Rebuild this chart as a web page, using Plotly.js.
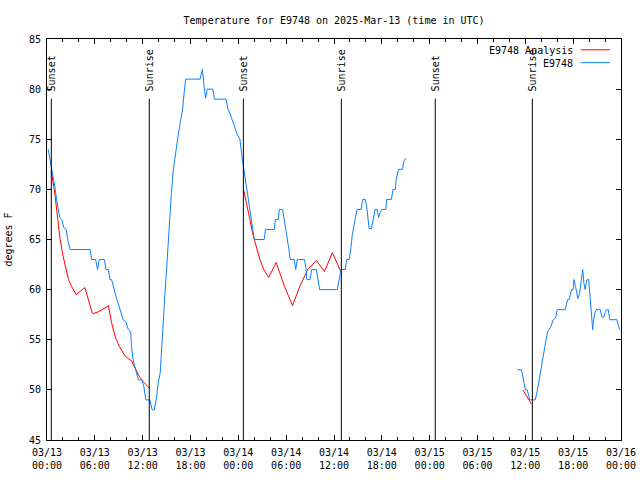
<!DOCTYPE html>
<html>
<head>
<meta charset="utf-8">
<script src="https://cdn.plot.ly/plotly-3.0.1.min.js"></script>
<style>html,body{margin:0;padding:0;background:#fff;}#chart{width:640px;height:480px;}</style>
</head>
<body>
<div id="chart"></div>
<script>
// Hours since 2025-03-13 00:00 UTC
const startDate = Date.UTC(2025, 2, 13, 0, 0, 0);

// Observed (blue) series
const obsHours = [
  0.15,0.35,0.6,0.8,1.0,1.2,1.4,1.6,1.85,2.1,2.4,2.6,2.9,5.4,5.6,6.1,6.35,6.55,7.2,7.4,7.7,7.9,8.1,8.4,8.7,8.9,9.15,9.55,9.9,10.2,10.5,10.6,10.8,11.15,11.45,11.9,12.15,12.4,12.9,13.2,13.45,13.7,13.95,14.2,14.4,14.6,14.8,15.0,15.2,15.4,15.6,15.85,16.1,16.4,16.7,17.0,17.2,17.4,19.2,19.4,19.5,19.7,19.9,20.1,20.8,21.0,22.45,22.7,23.1,23.4,23.8,24.2,24.4,24.6,24.8,25.0,25.2,25.4,25.6,25.8,26.0,27.25,27.4,28.5,28.65,29.0,29.15,29.55,29.75,30.0,30.15,30.35,30.5,31.0,31.2,31.4,32.3,32.5,32.6,33.0,33.2,33.8,34.0,34.2,36.4,36.65,36.9,37.4,37.6,37.9,38.1,38.3,38.5,38.7,38.9,39.4,39.6,39.9,40.1,40.25,40.4,40.7,40.9,41.15,41.4,41.6,41.8,42.0,42.5,42.6,43.2,43.4,43.7,43.8,44.1,44.6,44.75,45.0,
  null,
  59.0,59.5,59.6,59.8,60.0,60.25,60.4,60.55,61.25,61.4,61.6,61.8,62.0,62.2,62.4,62.6,62.8,63.0,63.2,63.5,63.8,64.0,65.0,65.15,65.3,65.5,65.8,66.0,66.1,66.3,66.5,66.6,66.8,67.05,67.2,67.35,67.5,67.65,67.75,67.95,68.1,68.2,68.35,68.45,68.5,68.7,68.9,69.4,69.6,69.8,70.0,70.2,70.4,70.6,71.5,71.7,71.9
];
const obsTemps = [
  74,73.1,72.3,71.3,70.2,69,68,67.2,67,66.2,66,65,64,64,63,63,62,63,63,62,62,61,61,60,59.2,58.7,58,57,56.8,56,55.8,54.3,53,51.8,51,51,50.3,49,49,48,48,49,50.7,51.7,54.7,56.7,59.7,62,64.7,67.6,69.6,72,73.6,75.1,76.6,77.9,79.6,81,81,81.6,82,80.3,79.1,80,80,79,79,78,77.3,76.6,75.6,75,73.6,72.5,71.3,70.3,69,68,67,66,65,65,66,66,67,67,68,68,67,66,65,64,63,63,62,63,63,62,61,61,62,62,61,60,60,61,62,62,63,63,64,65.5,66.5,67.2,68,68,69,69,68.3,67.3,66.1,66.1,67,68,68,67.2,67.7,68,68,69,69,70,70,71,72,72,72.8,73.1,
  null,
  52,52,51.7,50.7,50,50,49.3,49,49,49.5,50.3,51.3,52.3,53.3,54.3,55,55.8,56,56.3,57,57.2,58,58,58.5,59,59,60,60,61,60.3,59.6,59.1,59.6,61,62,60.6,60,60.7,61,61,59.6,58.1,56.6,56,56.6,57.6,58,58,57.3,57.2,57.7,58,58,57,57,56.3,56
];

// Analysis (red) series
const anaHours = [
  0.55,1.0,1.35,1.65,2.0,2.35,2.7,3.1,3.65,4.75,5.15,5.7,6.5,7.7,8.1,8.6,9.1,9.7,10.2,10.6,11.1,11.6,12.1,12.8,
  null,
  24.65,25.0,25.4,25.8,26.3,26.7,27.2,27.8,28.75,29.8,30.8,31.7,32.7,33.8,34.8,35.8,36.8,
  null,
  59.7,60.2,60.75
];
const anaTemps = [
  71.8,69.5,67,65,63.4,62.3,61,60.3,59.5,60.2,59,57.6,57.8,58.4,56.7,55.2,54.3,53.5,53.1,52.9,52.1,51.3,50.8,50.2,
  null,
  70,68.8,67.2,65.6,64.2,63,62,61.2,62.7,60.3,58.4,60.3,62,62.9,61.8,63.7,61.9,
  null,
  50.0,49.3,48.6
];

// Sunrise / sunset events
const sunHours = [0.54, 12.83, 24.63, 36.92, 48.7, 60.88];
const sunLabels = ["Sunset", "Sunrise", "Sunset", "Sunrise", "Sunset", "Sunrise"];

// X tick labels (every 6 h)
const xTickHours = [0,6,12,18,24,30,36,42,48,54,60,66,72];
const xTickText = ["03/13<br>00:00","03/13<br>06:00","03/13<br>12:00","03/13<br>18:00",
  "03/14<br>00:00","03/14<br>06:00","03/14<br>12:00","03/14<br>18:00",
  "03/15<br>00:00","03/15<br>06:00","03/15<br>12:00","03/15<br>18:00","03/16<br>00:00"];

const seriesNames = ["E9748 Analysis", "E9748"];
const seriesColors = ["#ff0000", "#0a80ff"];

function toDate(h) {
  if (h === null) return null;
  const d = new Date(startDate + h * 3600000);
  return d.toISOString().slice(0, 19).replace('T', ' ');
}

const FONT = "DejaVu Sans Mono, monospace";

const traces = [
  {x: anaHours.map(toDate), y: anaTemps, mode: 'lines', name: seriesNames[0],
   line: {color: seriesColors[0], width: 1}, connectgaps: false},
  {x: obsHours.map(toDate), y: obsTemps, mode: 'lines', name: seriesNames[1],
   line: {color: seriesColors[1], width: 1}, connectgaps: false}
];

const shapes = sunHours.map(h => ({
  type: 'line', xref: 'x', yref: 'y', x0: toDate(h), x1: toDate(h), y0: 45, y1: 79.05,
  line: {color: '#000', width: 1}
}));

const annotations = sunHours.map((h, i) => ({
  x: toDate(h), y: 79.6, xref: 'x', yref: 'y', text: sunLabels[i], textangle: -90,
  showarrow: false, xanchor: 'center', yanchor: 'bottom',
  font: {family: FONT, size: 10, color: '#000'}
}));

// custom legend (text on left, line sample on right)
const legendY = [0.971, 0.939];
seriesNames.forEach((n, i) => {
  annotations.push({x: 0.919, y: legendY[i], xref: 'paper', yref: 'paper', text: n,
    showarrow: false, xanchor: 'right', yanchor: 'middle',
    font: {family: FONT, size: 10, color: '#000'}});
  shapes.push({type: 'line', xref: 'paper', yref: 'paper', x0: 0.930, x1: 0.981,
    y0: legendY[i] + 0.002, y1: legendY[i] + 0.002, line: {color: seriesColors[i], width: 1}});
});

const layout = {
  width: 640, height: 480,
  margin: {l: 47, r: 19, t: 39, b: 40},
  paper_bgcolor: '#fff', plot_bgcolor: '#fff',
  font: {family: FONT, size: 10, color: '#000'},
  showlegend: false,
  title: {text: 'Temperature for E9748 on 2025-Mar-13 (time in UTC)', x: 0.522, xanchor: 'center',
          y: 0.958, yanchor: 'middle', font: {family: FONT, size: 10, color: '#000'}},
  xaxis: {
    type: 'date', range: [toDate(0), toDate(72)],
    tickmode: 'array', tickvals: xTickHours.map(toDate), ticktext: xTickText,
    ticks: 'inside', ticklen: 5, tickcolor: '#000', tickwidth: 1,
    minor: {tickmode: 'linear', tick0: toDate(0), dtick: 2 * 3600000, ticks: 'inside', ticklen: 3, tickcolor: '#000', showgrid: false},
    showline: true, linecolor: '#000', linewidth: 1, mirror: 'allticks',
    showgrid: false, zeroline: false, tickangle: 0, ticklabelstandoff: 3,
    tickfont: {family: FONT, size: 10, color: '#000'}
  },
  yaxis: {
    range: [45, 85], tickmode: 'linear', tick0: 45, dtick: 5,
    ticks: 'inside', ticklen: 5, tickcolor: '#000',
    showline: true, linecolor: '#000', linewidth: 1, mirror: 'allticks',
    showgrid: false, zeroline: false, ticklabelstandoff: 3,
    title: {text: 'degrees F', font: {family: FONT, size: 10, color: '#000'}, standoff: 14},
    tickfont: {family: FONT, size: 10, color: '#000'}
  },
  shapes: shapes,
  annotations: annotations
};

Plotly.newPlot('chart', traces, layout, {staticPlot: true, displayModeBar: false});
</script>
</body>
</html>
